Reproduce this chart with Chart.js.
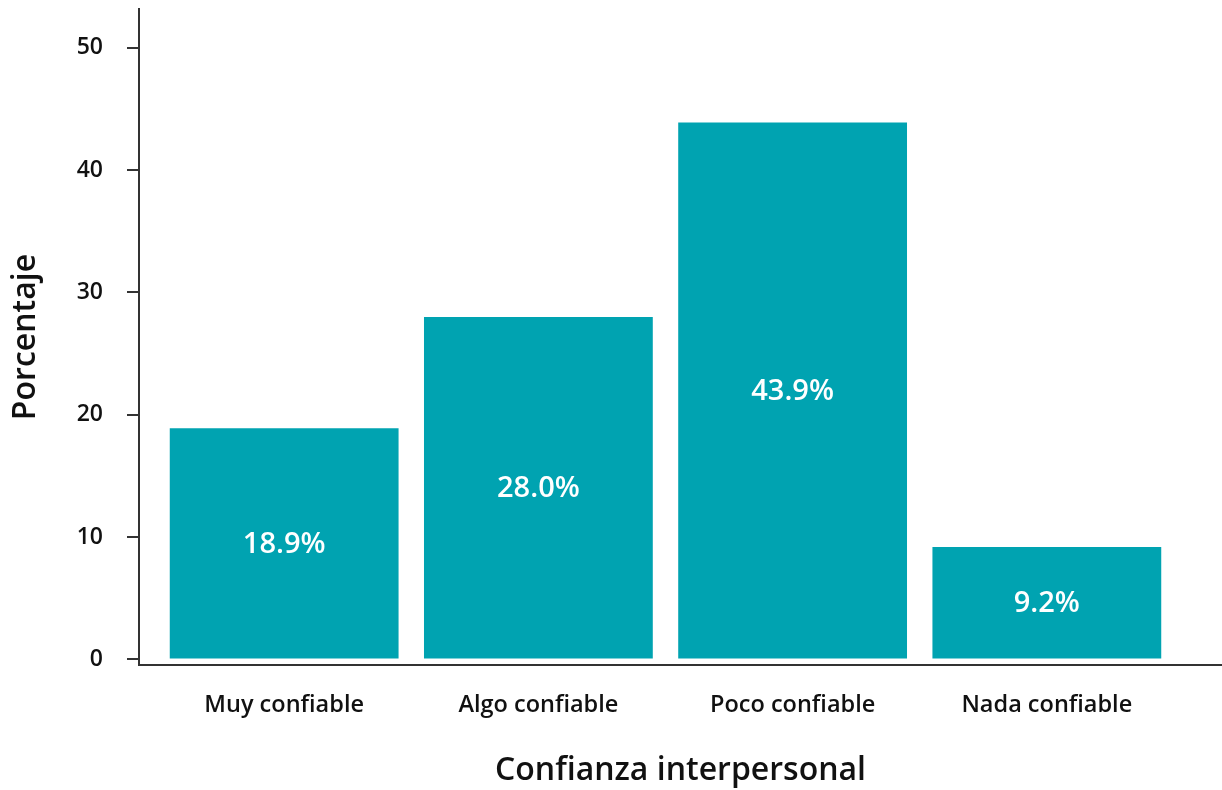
<!DOCTYPE html>
<html><head><meta charset="utf-8">
<script src="https://cdn.jsdelivr.net/npm/chart.js@4.4.1/dist/chart.umd.min.js"></script>
<style>html,body{margin:0;padding:0;background:#fff}#wrap{width:1222px;height:790px;position:relative}</style>
</head><body><div id="wrap"><canvas id="c" width="1222" height="790"></canvas></div>
<script>
const categories = ["Muy confiable", "Algo confiable", "Poco confiable", "Nada confiable"];
const values = [18.9, 28.0, 43.9, 9.2];
const valueLabels = ["18.9%", "28.0%", "43.9%", "9.2%"];
const yTicks = [0, 10, 20, 30, 40, 50];
const xTitle = "Confianza interpersonal";
const yTitle = "Porcentaje";

const FONT = "'Open Sans', 'DejaVu Sans', sans-serif";
const INK = '#111111';
const AXIS = '#333333';
const BAR = '#00A3B1';

const labelPlugin = {
  id: 'barLabels',
  afterDatasetsDraw(chart) {
    const ctx = chart.ctx;
    const meta = chart.getDatasetMeta(0);
    ctx.save();
    ctx.fillStyle = '#ffffff';
    ctx.font = "600 29px " + FONT;
    ctx.textAlign = 'center';
    ctx.textBaseline = 'middle';
    meta.data.forEach((bar, i) => {
      ctx.fillText(valueLabels[i], bar.x, (bar.y + bar.base) / 2 + 1);
    });
    ctx.restore();
  }
};

new Chart(document.getElementById('c'), {
  type: 'bar',
  data: {
    datasets: [{
      data: values.map((v, i) => ({x: i, y: v})),
      backgroundColor: BAR,
      borderWidth: 0,
      barPercentage: 0.9,
      categoryPercentage: 1.0
    }]
  },
  options: {
    responsive: false,
    animation: false,
    layout: {padding: {top: 9, right: 0, left: 0, bottom: 0}},
    plugins: {legend: {display: false}, tooltip: {enabled: false}},
    scales: {
      x: {
        type: 'linear',
        min: -0.571,
        max: 3.689,
        offset: false,
        afterFit(s) { s.height = 125; s.paddingLeft = 0; s.paddingRight = 0; },
        afterBuildTicks(s) { s.ticks = categories.map((c, i) => ({value: i})); },
        ticks: {
          autoSkip: false,
          maxRotation: 0,
          padding: 26,
          color: INK,
          font: {family: FONT, size: 23.5, weight: '600'},
          callback: (v) => categories[v]
        },
        grid: {display: false, drawTicks: false},
        border: {display: true, color: AXIS, width: 2},
        title: {
          display: true, text: xTitle, color: INK,
          font: {family: FONT, size: 32, weight: '600'},
          padding: {top: 0, bottom: 0}
        }
      },
      y: {
        min: -0.45,
        max: 53.17,
        afterFit(s) { s.width = 139; s.paddingTop = 0; s.paddingBottom = 0; },
        afterBuildTicks(s) { s.ticks = yTicks.map(v => ({value: v})); },
        ticks: {
          padding: 24,
          color: INK,
          font: {family: FONT, size: 23, weight: '600'}
        },
        grid: {display: true, drawOnChartArea: false, drawTicks: true, tickLength: 12, color: AXIS, lineWidth: 2},
        border: {display: true, color: AXIS, width: 2},
        title: {
          display: true, text: yTitle, color: INK,
          font: {family: FONT, size: 32, weight: '600'},
          padding: {top: 7, bottom: 0}
        }
      }
    }
  },
  plugins: [labelPlugin]
});
</script></body></html>
